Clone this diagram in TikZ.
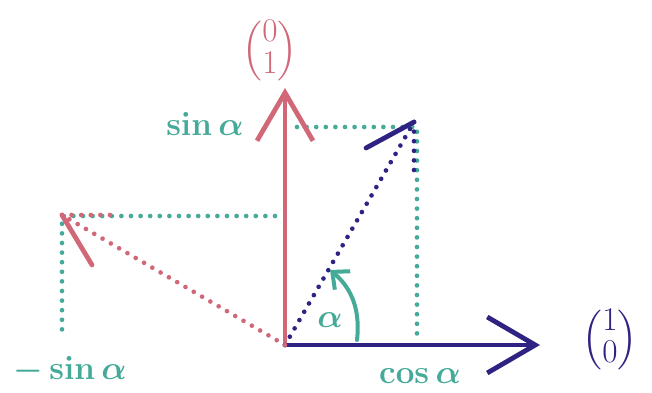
\documentclass[tikz,border=0pt]{standalone}
\usepackage{amsmath}
\usetikzlibrary{arrows.meta,calc}
\definecolor{VecRed}{HTML}{D06878}
\definecolor{VecBlue}{HTML}{2E2383}
\definecolor{CompGreen}{HTML}{45AA98}

\begin{document}
\begin{tikzpicture}[x=0.75pt,y=-0.75pt,
  basis/.style={line width=3.6pt,line cap=round,
    -{Straight Barb[length=36pt,width=42pt,line width=3.6pt]}},
  dots/.style={line width=3.5pt,line cap=round,dash pattern=on 0pt off 7.2pt},
  barb/.style={line width=3.6pt,line cap=round},
  comp/.style={text=CompGreen,font=\fontsize{28}{32}\selectfont\boldmath},
  vec/.style={font=\fontsize{24.88}{30}\selectfont\renewcommand\arraystretch{0.8}}]
  \useasboundingbox (0,0) rectangle (652,392);

  \coordinate (O) at (285,345);
  \coordinate (E1) at (540,345);
  \coordinate (E2) at (285,88);
  \coordinate (R1) at (414,122);
  \coordinate (R2) at (62,215);

  % projections of the rotated vectors onto the axes
  \draw[dots,CompGreen] (297,127) -| (417,335);
  \draw[dots,CompGreen] (275,216) -| (62,338);

  \draw[basis,VecRed] (O) -- (E2);
  \draw[basis,VecBlue] (O) -- (E1);

  % rotated first basis vector
  \draw[dots,VecBlue] (O) -- (R1);
  \draw[dots,VecBlue] (R1) -- ($(R1)+(0,55)$);
  \draw[barb,VecBlue] (R1) -- ($(R1)+(-48,26)$);

  % rotated second basis vector
  \draw[dots,VecRed] (O) -- (R2);
  \draw[dots,VecRed] (R2) -- ($(R2)+(56,0)$);
  \draw[barb,VecRed] (R2) -- ($(R2)+(30,50)$);

  \draw[CompGreen,line width=3pt,line cap=round,
    -{Straight Barb[length=10pt,width=18pt,line width=3pt]}]
    (357,340) .. controls (361,305) and (348,285) .. (330,270);

  \node[vec,text=VecRed] (e2) at (270,51)
    {$\Bigl(\begin{matrix}0\\1\end{matrix}\Bigr)$};
  \node[vec,text=VecBlue] (e1) at (610,340)
    {$\Bigl(\begin{matrix}1\\0\end{matrix}\Bigr)$};
  \node[comp] (sin) at (205,124) {$\sin\alpha$};
  \node[comp] (msin) at (70,370) {$-\sin\alpha$};
  \node[comp] (cos) at (420,376) {$\cos\alpha$};
  \node[comp] (alpha) at (330,320) {$\alpha$};
\end{tikzpicture}
\end{document}
